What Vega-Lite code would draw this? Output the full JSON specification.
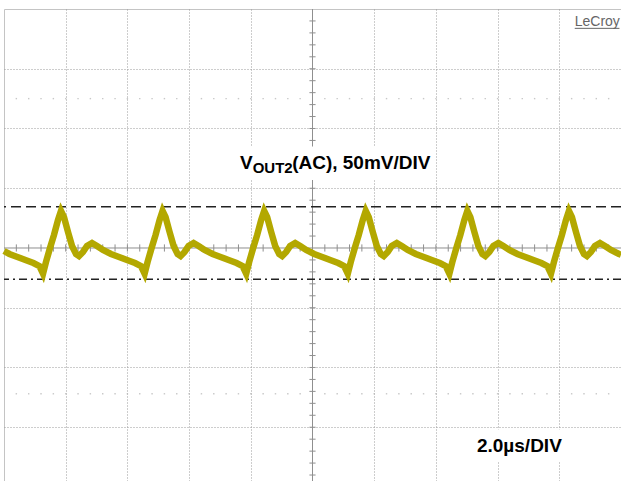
{
  "$schema": "https://vega.github.io/schema/vega-lite/v6.json",
  "width": 617,
  "height": 472,
  "autosize": "none",
  "padding": {"left": 4, "top": 9, "right": 0, "bottom": 0},
  "background": "white",
  "config": {
    "view": {"stroke": "#c4c4c4", "strokeWidth": 1},
    "axis": {"labels": false, "ticks": false, "domain": false, "title": null, "grid": true, "gridDash": [1, 2], "gridColor": "#9a9a9a", "gridOpacity": 1, "gridWidth": 1}
  },
  "datasets": {
    "one": [{}],
    "wave": [
      {"t": 0, "v": -2.5}, {"t": 0.176, "v": -5.0}, {"t": 0.435, "v": -7.5}, {"t": 0.694, "v": -10.0}, {"t": 0.954, "v": -12.6}, {"t": 1.148, "v": -15.1},
      {"t": 1.265, "v": -21.5}, {"t": 1.362, "v": -11.7}, {"t": 1.491, "v": 0}, {"t": 1.621, "v": 10.9}, {"t": 1.751, "v": 23.4}, {"t": 1.848, "v": 31.0}, {"t": 1.945, "v": 25.9}, {"t": 2.075, "v": 13.4}, {"t": 2.205, "v": 1.7}, {"t": 2.334, "v": -5.0}, {"t": 2.431, "v": -6.7}, {"t": 2.561, "v": -3.3}, {"t": 2.691, "v": 1.7}, {"t": 2.853, "v": 4.2}, {"t": 3.015, "v": 1.7}, {"t": 3.209, "v": -1.7}, {"t": 3.469, "v": -5.0}, {"t": 3.728, "v": -7.5}, {"t": 3.987, "v": -10.0}, {"t": 4.247, "v": -12.6}, {"t": 4.441, "v": -15.1},
      {"t": 4.558, "v": -21.5}, {"t": 4.655, "v": -11.7}, {"t": 4.784, "v": 0}, {"t": 4.914, "v": 10.9}, {"t": 5.044, "v": 23.4}, {"t": 5.141, "v": 31.0}, {"t": 5.238, "v": 25.9}, {"t": 5.368, "v": 13.4}, {"t": 5.498, "v": 1.7}, {"t": 5.627, "v": -5.0}, {"t": 5.724, "v": -6.7}, {"t": 5.854, "v": -3.3}, {"t": 5.984, "v": 1.7}, {"t": 6.146, "v": 4.2}, {"t": 6.308, "v": 1.7}, {"t": 6.502, "v": -1.7}, {"t": 6.762, "v": -5.0}, {"t": 7.021, "v": -7.5}, {"t": 7.28, "v": -10.0}, {"t": 7.54, "v": -12.6}, {"t": 7.734, "v": -15.1},
      {"t": 7.851, "v": -21.5}, {"t": 7.948, "v": -11.7}, {"t": 8.077, "v": 0}, {"t": 8.207, "v": 10.9}, {"t": 8.337, "v": 23.4}, {"t": 8.434, "v": 31.0}, {"t": 8.531, "v": 25.9}, {"t": 8.661, "v": 13.4}, {"t": 8.791, "v": 1.7}, {"t": 8.92, "v": -5.0}, {"t": 9.017, "v": -6.7}, {"t": 9.147, "v": -3.3}, {"t": 9.277, "v": 1.7}, {"t": 9.439, "v": 4.2}, {"t": 9.601, "v": 1.7}, {"t": 9.795, "v": -1.7}, {"t": 10.055, "v": -5.0}, {"t": 10.314, "v": -7.5}, {"t": 10.573, "v": -10.0}, {"t": 10.833, "v": -12.6}, {"t": 11.027, "v": -15.1},
      {"t": 11.144, "v": -21.5}, {"t": 11.241, "v": -11.7}, {"t": 11.37, "v": 0}, {"t": 11.5, "v": 10.9}, {"t": 11.63, "v": 23.4}, {"t": 11.727, "v": 31.0}, {"t": 11.824, "v": 25.9}, {"t": 11.954, "v": 13.4}, {"t": 12.084, "v": 1.7}, {"t": 12.213, "v": -5.0}, {"t": 12.31, "v": -6.7}, {"t": 12.44, "v": -3.3}, {"t": 12.57, "v": 1.7}, {"t": 12.732, "v": 4.2}, {"t": 12.894, "v": 1.7}, {"t": 13.088, "v": -1.7}, {"t": 13.348, "v": -5.0}, {"t": 13.607, "v": -7.5}, {"t": 13.866, "v": -10.0}, {"t": 14.126, "v": -12.6}, {"t": 14.32, "v": -15.1},
      {"t": 14.437, "v": -21.5}, {"t": 14.534, "v": -11.7}, {"t": 14.663, "v": 0}, {"t": 14.793, "v": 10.9}, {"t": 14.923, "v": 23.4}, {"t": 15.02, "v": 31.0}, {"t": 15.117, "v": 25.9}, {"t": 15.247, "v": 13.4}, {"t": 15.377, "v": 1.7}, {"t": 15.506, "v": -5.0}, {"t": 15.603, "v": -6.7}, {"t": 15.733, "v": -3.3}, {"t": 15.863, "v": 1.7}, {"t": 16.025, "v": 4.2}, {"t": 16.187, "v": 1.7}, {"t": 16.381, "v": -1.7}, {"t": 16.641, "v": -5.0}, {"t": 16.9, "v": -7.5}, {"t": 17.159, "v": -10.0}, {"t": 17.419, "v": -12.6}, {"t": 17.613, "v": -15.1},
      {"t": 17.73, "v": -21.5}, {"t": 17.827, "v": -11.7}, {"t": 17.956, "v": 0}, {"t": 18.086, "v": 10.9}, {"t": 18.216, "v": 23.4}, {"t": 18.313, "v": 31.0}, {"t": 18.41, "v": 25.9}, {"t": 18.54, "v": 13.4}, {"t": 18.67, "v": 1.7}, {"t": 18.799, "v": -5.0}, {"t": 18.896, "v": -6.7}, {"t": 19.026, "v": -3.3}, {"t": 19.156, "v": 1.7}, {"t": 19.318, "v": 4.2}, {"t": 19.48, "v": 1.7}, {"t": 19.674, "v": -1.7}, {"t": 19.934, "v": -5.0}, {"t": 20.0, "v": -5.6}
    ],
    "hticks": [
      {"t": 0.4}, {"t": 0.8}, {"t": 1.2}, {"t": 1.6}, {"t": 2.0}, {"t": 2.4}, {"t": 2.8}, {"t": 3.2}, {"t": 3.6}, {"t": 4.0},
      {"t": 4.4}, {"t": 4.8}, {"t": 5.2}, {"t": 5.6}, {"t": 6.0}, {"t": 6.4}, {"t": 6.8}, {"t": 7.2}, {"t": 7.6}, {"t": 8.0},
      {"t": 8.4}, {"t": 8.8}, {"t": 9.2}, {"t": 9.6}, {"t": 10.4}, {"t": 10.8}, {"t": 11.2}, {"t": 11.6}, {"t": 12.0},
      {"t": 12.4}, {"t": 12.8}, {"t": 13.2}, {"t": 13.6}, {"t": 14.0}, {"t": 14.4}, {"t": 14.8}, {"t": 15.2}, {"t": 15.6}, {"t": 16.0},
      {"t": 16.4}, {"t": 16.8}, {"t": 17.2}, {"t": 17.6}, {"t": 18.0}, {"t": 18.4}, {"t": 18.8}, {"t": 19.2}, {"t": 19.6}
    ],
    "vticks": [
      {"v": -190}, {"v": -180}, {"v": -170}, {"v": -160}, {"v": -150}, {"v": -140}, {"v": -130}, {"v": -120}, {"v": -110}, {"v": -100},
      {"v": -90}, {"v": -80}, {"v": -70}, {"v": -60}, {"v": -50}, {"v": -40}, {"v": -30}, {"v": -20}, {"v": -10},
      {"v": 10}, {"v": 20}, {"v": 30}, {"v": 40}, {"v": 50}, {"v": 60}, {"v": 70}, {"v": 80}, {"v": 90}, {"v": 100},
      {"v": 110}, {"v": 120}, {"v": 130}, {"v": 140}, {"v": 150}, {"v": 160}, {"v": 170}, {"v": 180}, {"v": 190}
    ]
  },
  "layer": [
    {
      "data": {"name": "wave"},
      "mark": {"type": "line", "opacity": 0},
      "encoding": {
        "x": {"field": "t", "type": "quantitative", "scale": {"domain": [0, 20], "nice": false, "zero": false}, "axis": {"values": [2, 4, 6, 8, 12, 14, 16, 18]}},
        "y": {"field": "v", "type": "quantitative", "scale": {"domain": [-195, 200], "nice": false, "zero": false}, "axis": {"values": [-150, -100, -50, 50, 100, 150]}}
      }
    },
    {
      "data": {"name": "one"},
      "mark": {"type": "rule", "color": "#8f8f8f", "strokeWidth": 1},
      "encoding": {"x": {"datum": 10, "type": "quantitative"}}
    },
    {
      "data": {"name": "one"},
      "mark": {"type": "rule", "color": "#8f8f8f", "strokeWidth": 1},
      "encoding": {"y": {"datum": 0, "type": "quantitative"}}
    },
    {
      "data": {"name": "hticks"},
      "mark": {"type": "rule", "color": "#8f8f8f", "strokeWidth": 1},
      "encoding": {
        "x": {"field": "t", "type": "quantitative", "scale": {"domain": [0, 20], "nice": false, "zero": false}},
        "y": {"datum": -3, "type": "quantitative"},
        "y2": {"datum": 3}
      }
    },
    {
      "data": {"name": "vticks"},
      "mark": {"type": "rule", "color": "#8f8f8f", "strokeWidth": 1},
      "encoding": {
        "y": {"field": "v", "type": "quantitative", "scale": {"domain": [-195, 200], "nice": false, "zero": false}},
        "x": {"datum": 9.9, "type": "quantitative"},
        "x2": {"datum": 10.1}
      }
    },
    {
      "data": {"name": "hticks"},
      "mark": {"type": "point", "shape": "square", "filled": true, "size": 2, "color": "#b0b0b0"},
      "encoding": {
        "x": {"field": "t", "type": "quantitative", "scale": {"domain": [0, 20], "nice": false, "zero": false}},
        "y": {"datum": 125, "type": "quantitative"}
      }
    },
    {
      "data": {"name": "hticks"},
      "mark": {"type": "point", "shape": "square", "filled": true, "size": 2, "color": "#b0b0b0"},
      "encoding": {
        "x": {"field": "t", "type": "quantitative", "scale": {"domain": [0, 20], "nice": false, "zero": false}},
        "y": {"datum": -122, "type": "quantitative"}
      }
    },
    {
      "data": {"values": [
        {"t0": 7.39, "t1": 13.85, "v0": 57.0, "v1": 85.0},
        {"t0": 15.0, "t1": 18.2, "v0": -179.0, "v1": -152.0}
      ]},
      "mark": {"type": "rect", "color": "white"},
      "encoding": {
        "x": {"field": "t0", "type": "quantitative", "scale": {"domain": [0, 20], "nice": false, "zero": false}},
        "x2": {"field": "t1"},
        "y": {"field": "v0", "type": "quantitative", "scale": {"domain": [-195, 200], "nice": false, "zero": false}},
        "y2": {"field": "v1"}
      }
    },
    {
      "data": {"name": "one"},
      "mark": {"type": "rule", "color": "#222222", "strokeWidth": 1.5, "strokeDash": [10, 5]},
      "encoding": {"y": {"datum": 34.5, "type": "quantitative"}}
    },
    {
      "data": {"name": "one"},
      "mark": {"type": "rule", "color": "#222222", "strokeWidth": 1.5, "strokeDash": [8, 4, 2, 4]},
      "encoding": {"y": {"datum": -26.2, "type": "quantitative"}}
    },
    {
      "data": {"name": "wave"},
      "mark": {"type": "line", "color": "#b3a800", "strokeWidth": 6.5, "strokeJoin": "miter", "strokeCap": "butt"},
      "encoding": {
        "x": {"field": "t", "type": "quantitative", "scale": {"domain": [0, 20], "nice": false, "zero": false}},
        "y": {"field": "v", "type": "quantitative", "scale": {"domain": [-195, 200], "nice": false, "zero": false}}
      }
    },
    {
      "data": {"values": [{"t": 7.65, "v": 66.1, "label": "V"}, {"t": 9.34, "v": 66.1, "label": "(AC), 50mV/DIV"}, {"t": 15.33, "v": -170.7, "label": "2.0µs/DIV"}]},
      "mark": {"type": "text", "font": "Liberation Sans", "fontWeight": "bold", "fontSize": 19, "align": "left", "baseline": "alphabetic", "color": "black"},
      "encoding": {
        "x": {"field": "t", "type": "quantitative", "scale": {"domain": [0, 20], "nice": false, "zero": false}},
        "y": {"field": "v", "type": "quantitative", "scale": {"domain": [-195, 200], "nice": false, "zero": false}},
        "text": {"field": "label"}
      }
    },
    {
      "data": {"values": [{"t": 8.06, "v": 62.6, "label": "OUT2"}]},
      "mark": {"type": "text", "font": "Liberation Sans", "fontWeight": "bold", "fontSize": 15, "align": "left", "baseline": "alphabetic", "color": "black"},
      "encoding": {
        "x": {"field": "t", "type": "quantitative", "scale": {"domain": [0, 20], "nice": false, "zero": false}},
        "y": {"field": "v", "type": "quantitative", "scale": {"domain": [-195, 200], "nice": false, "zero": false}},
        "text": {"field": "label"}
      }
    },
    {
      "data": {"values": [{"t": 18.5, "v": 185.8, "label": "LeCroy"}]},
      "mark": {"type": "text", "font": "Liberation Sans Narrow, Liberation Sans", "fontSize": 14, "align": "left", "baseline": "alphabetic", "color": "#666666"},
      "encoding": {
        "x": {"field": "t", "type": "quantitative", "scale": {"domain": [0, 20], "nice": false, "zero": false}},
        "y": {"field": "v", "type": "quantitative", "scale": {"domain": [-195, 200], "nice": false, "zero": false}},
        "text": {"field": "label"}
      }
    },
    {
      "data": {"values": [{"t0": 18.5, "t1": 19.95, "v": 183.8}]},
      "mark": {"type": "rule", "color": "#666666", "strokeWidth": 1},
      "encoding": {
        "x": {"field": "t0", "type": "quantitative", "scale": {"domain": [0, 20], "nice": false, "zero": false}},
        "x2": {"field": "t1"},
        "y": {"field": "v", "type": "quantitative", "scale": {"domain": [-195, 200], "nice": false, "zero": false}}
      }
    }
  ]
}
